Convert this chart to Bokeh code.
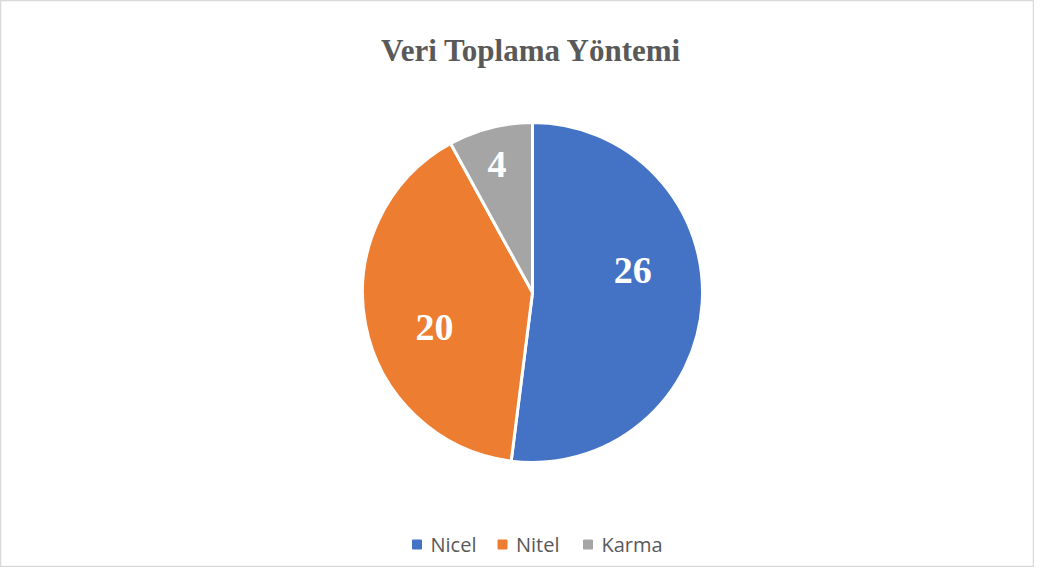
import math
from bokeh.plotting import figure
from bokeh.models import Range1d, ColumnDataSource, Label
from bokeh.core.properties import value
from bokeh.embed import file_html
from bokeh.resources import INLINE

# ---- data ----
categories = ["Nicel", "Nitel", "Karma"]
counts = [26, 20, 4]
colors = ["#4472C4", "#ED7D31", "#A5A5A5"]
title_text = "Veri Toplama Yöntemi"

# ---- layout / style ----
W, H = 1034, 567
CX, CY, R = 532, H - 292, 170
label_r = 0.62
label_nudge_x = [-5, 5.5, -9.3]      # screen px
label_nudge_y = [-28.6, 15.2, -26]   # screen px (down positive)

p = figure(width=W, height=H, output_backend="svg", toolbar_location=None,
           x_range=Range1d(0, W), y_range=Range1d(0, H), min_border=0)
p.axis.visible = False
p.grid.visible = False
p.outline_line_color = "#D9D9D9"
p.outline_line_width = 1.5
p.background_fill_color = "white"
p.border_fill_color = "white"

total = sum(counts)
starts, ends, mids = [], [], []
a = math.pi / 2
for c in counts:
    sweep = 2 * math.pi * c / total
    starts.append(a)
    ends.append(a - sweep)
    mids.append(a - sweep / 2)
    a -= sweep

src = ColumnDataSource(dict(cat=categories, val=counts, color=colors,
                            start=starts, end=ends))
p.wedge(x=CX, y=CY, radius=R, start_angle="start", end_angle="end",
        direction="clock", fill_color="color", line_color="white",
        line_width=3, source=src)

lx = [CX + label_r * R * math.cos(m) for m in mids]
ly = [CY + label_r * R * math.sin(m) for m in mids]
lsrc = ColumnDataSource(dict(x=lx, y=ly, t=[str(v) for v in counts],
                             dx=label_nudge_x, dy=label_nudge_y))
p.text(x="x", y="y", text="t", x_offset="dx", y_offset="dy", source=lsrc,
       text_font=value("Liberation Serif"), text_font_style="bold",
       text_font_size="38px", text_color="white",
       text_align="center", text_baseline="middle")

# title
p.add_layout(Label(x=531, y=H - 50, text=title_text,
                   text_font="Liberation Serif", text_font_style="bold",
                   text_font_size="31px", text_color="#595959",
                   text_align="center", text_baseline="alphabetic"))

# legend (manual)
step = 85.5
leg_x0 = 416.5
leg_y = H - 544
mx = [leg_x0 + i * step for i in range(len(categories))]
p.scatter(x=mx, y=[leg_y] * len(categories), marker="square", size=9,
          fill_color=colors, line_color=colors)
p.text(x=[m + 13.5 for m in mx], y=[leg_y] * len(categories), text=categories,
       text_font=value("Open Sans"), text_font_size="20px",
       text_color="#595959", text_baseline="middle", text_align="left")

open("out.html", "w").write(file_html(p, INLINE))
